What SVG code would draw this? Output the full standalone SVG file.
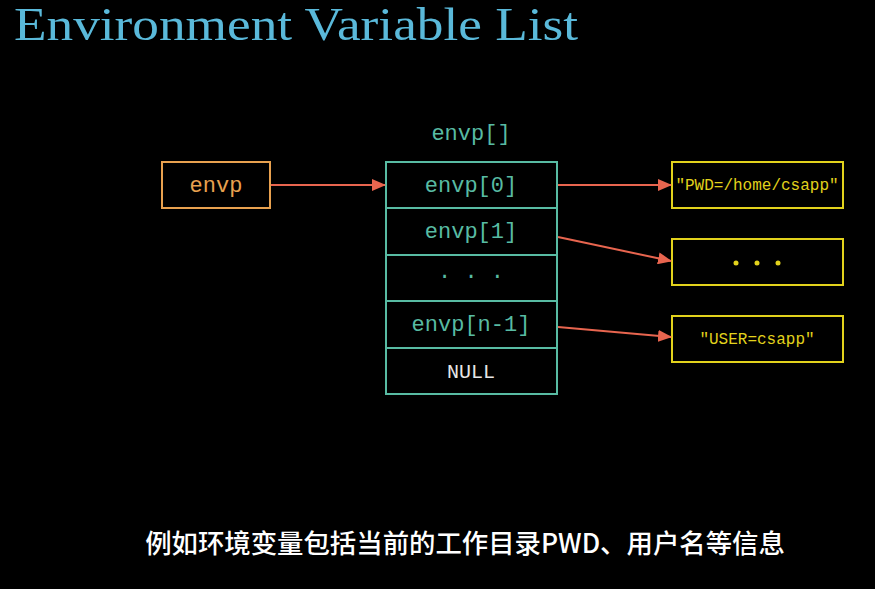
<svg xmlns="http://www.w3.org/2000/svg" width="875" height="589" viewBox="0 0 875 589">
<defs>
<marker id="ah" markerWidth="14" markerHeight="12" refX="13" refY="6" orient="auto" markerUnits="userSpaceOnUse">
<path d="M0,0 L14,6 L0,12 Z" fill="#e8654f"/>
</marker>
<style>
.mono{font-family:"Liberation Mono","DejaVu Sans Mono",monospace;text-anchor:middle;dominant-baseline:central}
.teal{fill:#58bba3}
.cell{fill:none;stroke:#58bba3;stroke-width:2}
.ybox{fill:none;stroke:#e2d21c;stroke-width:2}
.ytxt{fill:#e2d21c;font-size:16px}
.conn{stroke:#e8654f;stroke-width:2;fill:none;marker-end:url(#ah)}
</style>
</defs>
<rect width="875" height="589" fill="#000"/>
<text x="14" y="40" font-family="'Liberation Serif','DejaVu Serif',serif" font-size="46" fill="#5ab9da" textLength="564" lengthAdjust="spacingAndGlyphs">Environment Variable List</text>
<g id="envp-ptr">
<rect x="162" y="162" width="108" height="46" fill="none" stroke="#e8a14f" stroke-width="2"/>
<text class="mono" x="216" y="186" font-size="22" fill="#e8a14f">envp</text>
</g>
<g id="envp-array">
<text class="mono teal" x="471" y="134" font-size="22">envp[]</text>
<g id="cell0"><rect class="cell" x="386" y="162" width="171" height="46"/><text class="mono teal" x="471" y="186" font-size="22">envp[0]</text></g>
<g id="cell1"><rect class="cell" x="386" y="208" width="171" height="47"/><text class="mono teal" x="471" y="232" font-size="22">envp[1]</text></g>
<g id="cell2"><rect class="cell" x="386" y="255" width="171" height="46"/><text class="mono teal" x="471" y="277" font-size="22">· · ·</text></g>
<g id="cell3"><rect class="cell" x="386" y="301" width="171" height="47"/><text class="mono teal" x="471" y="325" font-size="22">envp[n-1]</text></g>
<g id="cell4"><rect class="cell" x="386" y="348" width="171" height="46"/><text class="mono" x="471" y="372" font-size="20" fill="#e6e6e6">NULL</text></g>
</g>
<g id="str-pwd"><rect class="ybox" x="672" y="162" width="171" height="46"/><text class="mono ytxt" x="757" y="186">"PWD=/home/csapp"</text></g>
<g id="str-dots"><rect class="ybox" x="672" y="239" width="171" height="46"/>
<circle cx="736" cy="263" r="2.5" fill="#e2d21c"/><circle cx="757" cy="263" r="2.5" fill="#e2d21c"/><circle cx="778" cy="263" r="2.5" fill="#e2d21c"/></g>
<g id="str-user"><rect class="ybox" x="672" y="316" width="171" height="46"/><text class="mono ytxt" x="757" y="340">"USER=csapp"</text></g>
<g id="connectors">
<line class="conn" x1="271" y1="185" x2="385" y2="185"/>
<line class="conn" x1="558" y1="185" x2="671" y2="185"/>
<line class="conn" x1="558" y1="237" x2="671" y2="261"/>
<line class="conn" x1="558" y1="327" x2="671" y2="337"/>
</g>
<text x="465" y="553" text-anchor="middle" font-family="'Noto Sans CJK SC','Noto Sans',sans-serif" font-size="26.4" font-weight="500" fill="#fff">例如环境变量包括当前的工作目录PWD、用户名等信息</text>
</svg>
